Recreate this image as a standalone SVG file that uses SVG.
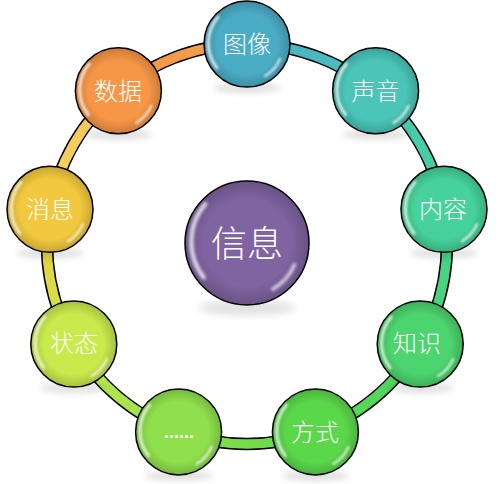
<svg xmlns="http://www.w3.org/2000/svg" xmlns:xlink="http://www.w3.org/1999/xlink" width="500" height="484" viewBox="0 0 500 484">
<style>
.node{stroke:#000;stroke-width:1.5}
.lbl{fill:#fff;font-family:"Noto Sans CJK SC","Noto Sans",sans-serif;font-weight:300;font-size:24px;text-anchor:middle;dominant-baseline:central}
.big{font-size:36px}
.dots{font-family:"Liberation Sans",sans-serif;font-size:18px;font-weight:bold}
.ringbg{fill:none;stroke:#000;stroke-width:12.5}
.seg{fill:none;stroke-width:9.5}
</style>
<defs>
<radialGradient id="shade" cx="0.5" cy="0.5" r="0.5">
<stop offset="0.7" stop-color="#000" stop-opacity="0"/>
<stop offset="1" stop-color="#000" stop-opacity="0.18"/>
</radialGradient>
<filter id="blur" x="-50%" y="-50%" width="200%" height="200%"><feGaussianBlur stdDeviation="1"/></filter>
<filter id="sh" x="-50%" y="-50%" width="200%" height="200%"><feGaussianBlur stdDeviation="3"/></filter>
<g id="gloss">
<circle r="43" fill="url(#shade)"/>
<path d="M -29 -27 A 40 40 0 0 0 -30 24" fill="none" stroke="#fff" stroke-width="3" stroke-linecap="round" opacity="0.75" filter="url(#blur)"/>
<path d="M 33 15 A 36 36 0 0 1 18 32" fill="none" stroke="#fff" stroke-width="2.5" stroke-linecap="round" opacity="0.7" filter="url(#blur)"/>
</g>
<ellipse id="shadow" cx="0" cy="44" rx="34" ry="5" fill="#000" opacity="0.12" filter="url(#sh)"/>
<linearGradient id="g0" gradientUnits="userSpaceOnUse" x1="247" y1="44" x2="375.6" y2="90.8"><stop offset="0" stop-color="#4bacc6"/><stop offset="1" stop-color="#4ac5b8"/></linearGradient>
<linearGradient id="g1" gradientUnits="userSpaceOnUse" x1="375.6" y1="90.8" x2="444" y2="209.3"><stop offset="0" stop-color="#4ac5b8"/><stop offset="1" stop-color="#46d29a"/></linearGradient>
<linearGradient id="g2" gradientUnits="userSpaceOnUse" x1="444" y1="209.3" x2="420.2" y2="344"><stop offset="0" stop-color="#46d29a"/><stop offset="1" stop-color="#4cd46e"/></linearGradient>
<linearGradient id="g3" gradientUnits="userSpaceOnUse" x1="420.2" y1="344" x2="315.4" y2="431.9"><stop offset="0" stop-color="#4cd46e"/><stop offset="1" stop-color="#5bd84a"/></linearGradient>
<linearGradient id="g4" gradientUnits="userSpaceOnUse" x1="315.4" y1="431.9" x2="178.6" y2="431.9"><stop offset="0" stop-color="#5bd84a"/><stop offset="1" stop-color="#8fe04c"/></linearGradient>
<linearGradient id="g5" gradientUnits="userSpaceOnUse" x1="178.6" y1="431.9" x2="73.8" y2="344"><stop offset="0" stop-color="#8fe04c"/><stop offset="1" stop-color="#c9ea4c"/></linearGradient>
<linearGradient id="g6" gradientUnits="userSpaceOnUse" x1="73.8" y1="344" x2="50" y2="209.3"><stop offset="0" stop-color="#c9ea4c"/><stop offset="1" stop-color="#f2c93e"/></linearGradient>
<linearGradient id="g7" gradientUnits="userSpaceOnUse" x1="50" y1="209.3" x2="118.4" y2="90.8"><stop offset="0" stop-color="#f2d85a"/><stop offset="1" stop-color="#f7c060"/></linearGradient>
<linearGradient id="g8" gradientUnits="userSpaceOnUse" x1="118.4" y1="90.8" x2="247" y2="44"><stop offset="0" stop-color="#f79646"/><stop offset="1" stop-color="#f0a050"/></linearGradient>
</defs>
<g id="connectors">
<circle class="ringbg" cx="247" cy="244" r="200"/>
<path class="seg" stroke="url(#g0)" d="M247 44 A200 200 0 0 1 375.6 90.8"/>
<path class="seg" stroke="url(#g1)" d="M375.6 90.8 A200 200 0 0 1 444 209.3"/>
<path class="seg" stroke="url(#g2)" d="M444 209.3 A200 200 0 0 1 420.2 344"/>
<path class="seg" stroke="url(#g3)" d="M420.2 344 A200 200 0 0 1 315.4 431.9"/>
<path class="seg" stroke="url(#g4)" d="M315.4 431.9 A200 200 0 0 1 178.6 431.9"/>
<path class="seg" stroke="url(#g5)" d="M178.6 431.9 A200 200 0 0 1 73.8 344"/>
<path class="seg" stroke="url(#g6)" d="M73.8 344 A200 200 0 0 1 50 209.3"/>
<path class="seg" stroke="url(#g7)" d="M50 209.3 A200 200 0 0 1 118.4 90.8"/>
<path class="seg" stroke="url(#g8)" d="M118.4 90.8 A200 200 0 0 1 247 44"/>
</g>
<g id="center">
<use href="#shadow" transform="translate(247,244) scale(1.45)"/>
<circle class="node" cx="247" cy="243" r="62" fill="#8064a2"/>
<use href="#gloss" transform="translate(247,243) scale(1.44)"/>
<text class="lbl big" x="247" y="241">信息</text>
</g>
<g id="n-tuxiang">
<use href="#shadow" x="247" y="44"/>
<circle class="node" cx="247" cy="44" r="43" fill="#4bacc6"/>
<use href="#gloss" x="247" y="44"/>
<text class="lbl" x="247" y="42">图像</text>
</g>
<g id="n-shengyin">
<use href="#shadow" x="375.6" y="90.8"/>
<circle class="node" cx="375.6" cy="90.8" r="43" fill="#4ac5b8"/>
<use href="#gloss" x="375.6" y="90.8"/>
<text class="lbl" x="375.6" y="89">声音</text>
</g>
<g id="n-neirong">
<use href="#shadow" x="444" y="209.3"/>
<circle class="node" cx="444" cy="209.3" r="43" fill="#46d29a"/>
<use href="#gloss" x="444" y="209.3"/>
<text class="lbl" x="443" y="207">内容</text>
</g>
<g id="n-zhishi">
<use href="#shadow" x="420.2" y="344"/>
<circle class="node" cx="420.2" cy="344" r="43" fill="#4cd46e"/>
<use href="#gloss" x="420.2" y="344"/>
<text class="lbl" x="417" y="341">知识</text>
</g>
<g id="n-fangshi">
<use href="#shadow" x="315.4" y="431.9"/>
<circle class="node" cx="315.4" cy="431.9" r="43" fill="#5bd84a"/>
<use href="#gloss" x="315.4" y="431.9"/>
<text class="lbl" x="315" y="430">方式</text>
</g>
<g id="n-dots">
<use href="#shadow" x="178.6" y="431.9"/>
<circle class="node" cx="178.6" cy="431.9" r="43" fill="#8fe04c"/>
<use href="#gloss" x="178.6" y="431.9"/>
<text class="lbl dots" x="179" y="432">......</text>
</g>
<g id="n-zhuangtai">
<use href="#shadow" x="73.8" y="344"/>
<circle class="node" cx="73.8" cy="344" r="43" fill="#c9ea4c"/>
<use href="#gloss" x="73.8" y="344"/>
<text class="lbl" x="74" y="341">状态</text>
</g>
<g id="n-xiaoxi">
<use href="#shadow" x="50" y="209.3"/>
<circle class="node" cx="50" cy="209.3" r="43" fill="#f2c93e"/>
<use href="#gloss" x="50" y="209.3"/>
<text class="lbl" x="50" y="207">消息</text>
</g>
<g id="n-shuju">
<use href="#shadow" x="118.4" y="90.8"/>
<circle class="node" cx="118.4" cy="90.8" r="43" fill="#f79646"/>
<use href="#gloss" x="118.4" y="90.8"/>
<text class="lbl" x="118" y="89">数据</text>
</g>
</svg>
